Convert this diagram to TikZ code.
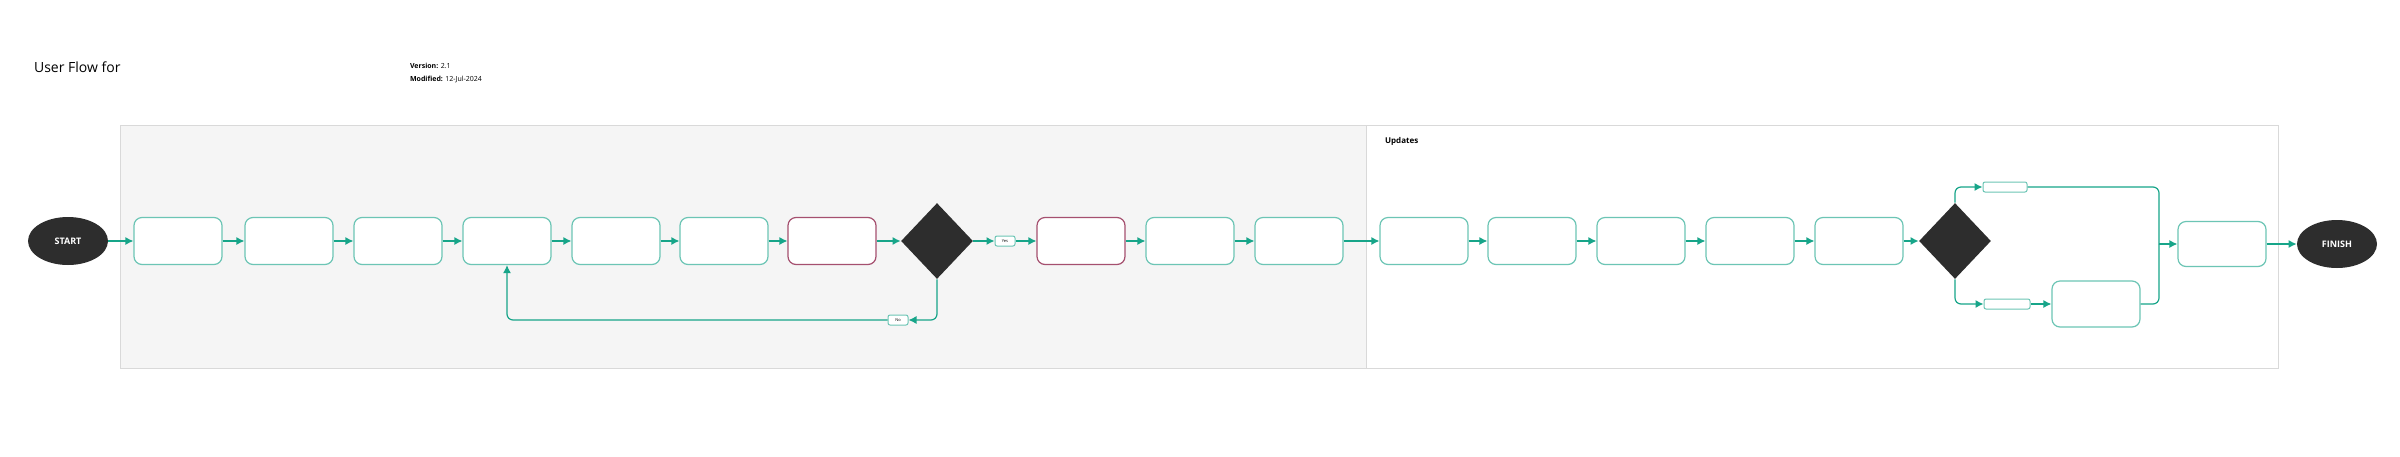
\documentclass[tikz,border=0pt]{standalone}
\usepackage{fontspec}
\setmainfont{Open Sans}
\usetikzlibrary{shapes.geometric,arrows.meta}
\definecolor{teal1}{HTML}{17A589}
\definecolor{tealb}{HTML}{6CC5B5}
\definecolor{redb}{HTML}{A5506F}
\definecolor{dark}{HTML}{2D2D2D}
\tikzset{
  stepbox/.style={draw=tealb,line width=0.6pt,rounded corners=4pt,fill=white,minimum width=44pt,minimum height=23.5pt,inner sep=0pt},
  redbox/.style={stepbox,draw=redb},
  term/.style={ellipse,fill=dark,text=white,font=\bfseries\fontsize{4.5}{5}\selectfont,minimum width=40pt,minimum height=24pt,inner sep=0pt},
  dec/.style={diamond,fill=dark,minimum width=36pt,minimum height=38pt,inner sep=0pt},
  lab/.style={draw=tealb,line width=0.5pt,rounded corners=1pt,fill=white,minimum width=10pt,minimum height=5pt,inner sep=0pt,font=\fontsize{2}{2.5}\selectfont},
  conn/.style={draw=teal1,line width=0.6pt,-{Latex[length=4pt,width=4pt]}},
  plain/.style={draw=teal1,line width=0.6pt},
}
\begin{document}
\begin{tikzpicture}[x=0.5pt,y=-0.5pt]
\useasboundingbox[fill=white] (0,0) rectangle (2400,456);
\draw[draw=black!15,fill=black!4] (120,125) rectangle (1366,368);
\draw[draw=black!15,fill=white] (1366,125) rectangle (2278,368);
\node[anchor=west,font=\fontsize{7}{8}\selectfont] at (27,67) {User Flow for};
\node[anchor=west,font=\fontsize{3.5}{4}\selectfont] at (403,66) {\textbf{Version:} 2.1};
\node[anchor=west,font=\fontsize{3.5}{4}\selectfont] at (403,79) {\textbf{Modified:} 12-Jul-2024};
\node[anchor=west,font=\bfseries\fontsize{4}{5}\selectfont] at (1378,141) {Updates};

\node[term] (start) at (68,241) {START};
\node[stepbox] (b1) at (178,241) {};
\node[stepbox] (b2) at (289,241) {};
\node[stepbox] (b3) at (398,241) {};
\node[stepbox] (b4) at (507,241) {};
\node[stepbox] (b5) at (616,241) {};
\node[stepbox] (b6) at (724,241) {};
\node[redbox] (b7) at (832,241) {};
\node[dec] (d1) at (937,241) {};
\node[lab] (yes) at (1005,241) {Yes};
\node[redbox] (b8) at (1081,241) {};
\node[stepbox] (b9) at (1190,241) {};
\node[stepbox] (b10) at (1299,241) {};
\node[stepbox] (u1) at (1424,241) {};
\node[stepbox] (u2) at (1532,241) {};
\node[stepbox] (u3) at (1641,241) {};
\node[stepbox] (u4) at (1750,241) {};
\node[stepbox] (u5) at (1859,241) {};
\node[dec] (d2) at (1955,241) {};
\node[lab,minimum width=22pt] (l1) at (2005,187) {};
\node[lab,minimum width=23pt] (l2) at (2007,304) {};
\node[stepbox,minimum height=23pt] (u6) at (2096,304) {};
\node[stepbox,minimum height=22.5pt] (fin) at (2222,244) {};
\node[term] (finish) at (2337,244) {FINISH};
\node[lab] (no) at (898,320) {No};
\coordinate (m) at (2159,244);

\draw[conn] (start) -- (b1);
\draw[conn] (b1) -- (b2);
\draw[conn] (b2) -- (b3);
\draw[conn] (b3) -- (b4);
\draw[conn] (b4) -- (b5);
\draw[conn] (b5) -- (b6);
\draw[conn] (b6) -- (b7);
\draw[conn] (b7) -- (d1);
\draw[conn] (d1) -- (yes);
\draw[conn] (yes) -- (b8);
\draw[conn] (b8) -- (b9);
\draw[conn] (b9) -- (b10);
\draw[conn] (b10) -- (u1);
\draw[conn] (u1) -- (u2);
\draw[conn] (u2) -- (u3);
\draw[conn] (u3) -- (u4);
\draw[conn] (u4) -- (u5);
\draw[conn] (u5) -- (d2);
\draw[conn,rounded corners=3pt] (d1.south) |- (no);
\draw[conn,rounded corners=3pt] (no) -| (b4.south);
\draw[conn,rounded corners=3pt] (d2.north) |- (l1);
\draw[conn,rounded corners=3pt] (d2.south) |- (l2);
\draw[conn] (l2) -- (u6);
\draw[plain,rounded corners=3pt] (l1) -| (m);
\draw[plain,rounded corners=3pt] (u6) -| (m);
\draw[conn] (m) -- (fin);
\draw[conn] (fin) -- (finish);
\end{tikzpicture}
\end{document}
